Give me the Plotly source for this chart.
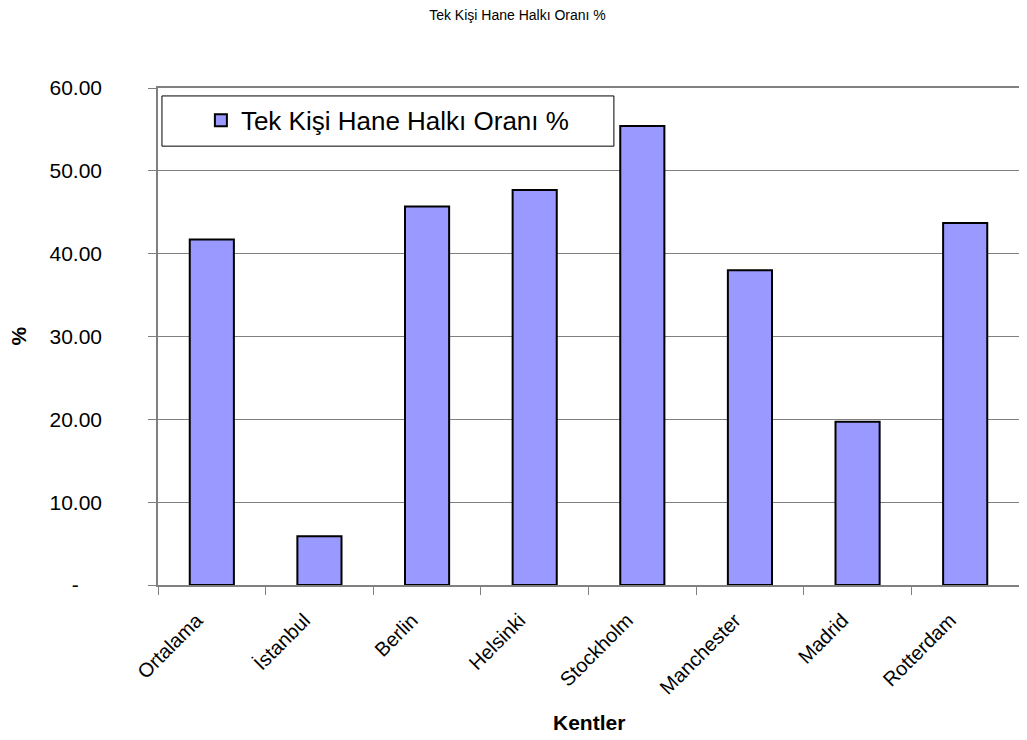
import plotly.graph_objects as go

categories = ["Ortalama", "İstanbul", "Berlin", "Helsinki", "Stockholm", "Manchester", "Madrid", "Rotterdam"]
values = [41.7, 5.9, 45.7, 47.7, 55.4, 38.0, 19.7, 43.7]
series_name = "Tek Kişi Hane Halkı Oranı %"
y_tick_vals = [0, 10, 20, 30, 40, 50, 60]
y_tick_text = ["-" + "\u00a0" * 4, "10.00", "20.00", "30.00", "40.00", "50.00", "60.00"]

W, H = 1019, 732
ML, MR, MT, MB = 150, 6, 80, 155

fig = go.Figure()
fig.add_trace(go.Bar(
    x=categories, y=values, name=series_name,
    marker=dict(color="#9999FF", line=dict(color="#000000", width=2)),
    showlegend=True,
))

grid = "#808080"
fig.update_layout(
    width=W, height=H,
    margin=dict(l=ML, r=MR, t=MT, b=MB),
    paper_bgcolor="white", plot_bgcolor="white",
    font=dict(family="Arial, Liberation Sans, sans-serif", color="black"),
    title=dict(text="Tek Kişi Hane Halkı Oranı %", x=0.5, xanchor="center",
               y=1 - 7 / H, yanchor="middle", font=dict(size=14)),
    bargap=0.59,
    showlegend=True,
    legend=dict(x=0.267, y=0.935, xanchor="center", yanchor="middle",
                bgcolor="rgba(0,0,0,0)", borderwidth=0, font=dict(size=26)),
    shapes=[dict(type="rect", xref="paper", yref="paper", x0=0.0046, x1=0.5295,
                 y0=0.883, y1=0.984, line=dict(color="#000000", width=1),
                 fillcolor="rgba(0,0,0,0)", layer="below")],
    annotations=[
        dict(text="<b>Kentler</b>", xref="paper", yref="paper", x=0.5, y=0,
             xanchor="center", yanchor="middle", yshift=-137, showarrow=False,
             font=dict(size=21)),
        dict(text="<b>%</b>", xref="paper", yref="paper", x=0, y=0.5,
             xanchor="center", yanchor="middle", xshift=-140, showarrow=False,
             textangle=-90, font=dict(size=21)),
    ],
    xaxis=dict(
        tickangle=-45, tickfont=dict(size=20), ticklabelstandoff=14,
        ticklabelshift=-15,
        showline=True, linecolor=grid, linewidth=1.5, mirror=True,
        ticks="outside", tickson="boundaries", ticklen=8, tickcolor=grid,
        showgrid=False,
    ),
    yaxis=dict(
        range=[0, 60], tickvals=y_tick_vals, ticktext=y_tick_text,
        tickfont=dict(size=21), ticklabelstandoff=42,
        showline=True, linecolor=grid, linewidth=1.5, mirror=True,
        ticks="outside", ticklen=8, tickcolor=grid,
        showgrid=True, gridcolor=grid, gridwidth=1,
        zeroline=False,
    ),
)

fig.write_html("out.html")
